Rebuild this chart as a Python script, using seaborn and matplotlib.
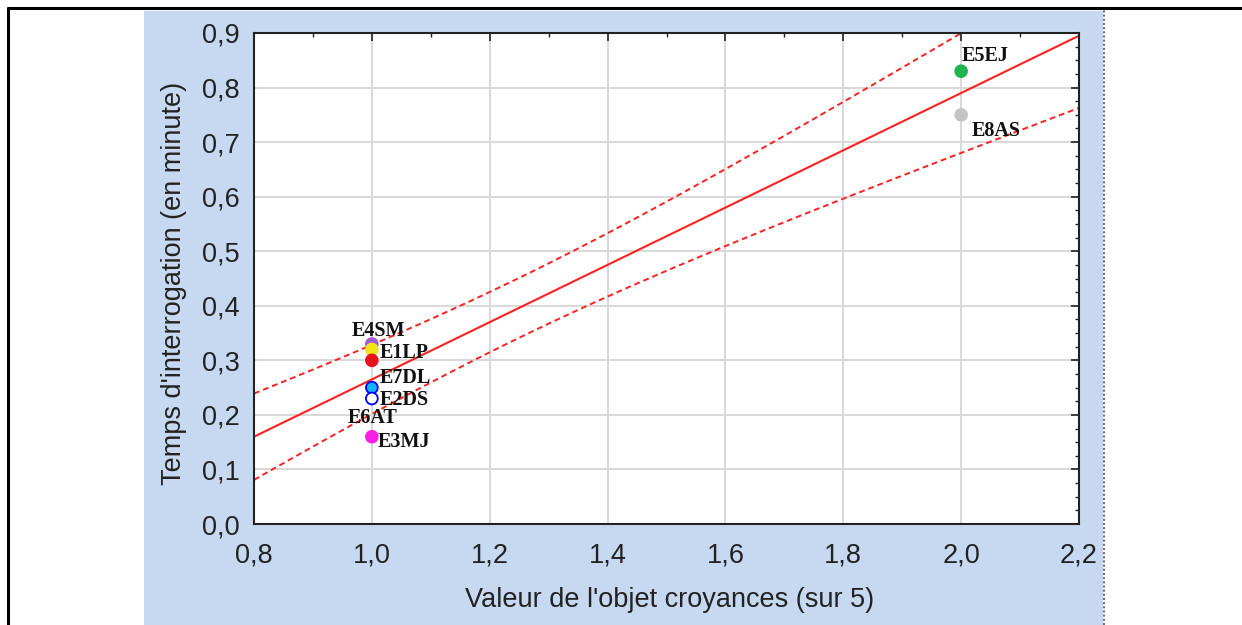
import matplotlib
matplotlib.use("Agg")
import matplotlib.pyplot as plt
import matplotlib.ticker as mticker
from matplotlib.lines import Line2D
from matplotlib.patches import Rectangle
import numpy as np
import pandas as pd
import seaborn as sns

# data
labels = ["E4SM", "E6AT", "E1LP", "E7DL", "E2DS", "E3MJ", "E5EJ", "E8AS"]
croyances = [1.0, 1.0, 1.0, 1.0, 1.0, 1.0, 2.0, 2.0]
temps = [0.33, 0.32, 0.30, 0.25, 0.23, 0.16, 0.83, 0.75]
fill_colors = ["#a05cd0", "#f2e21c", "#e8141c", "#14b4f0", "#ffffff",
               "#ff1ee6", "#1eb450", "#c4c4c4"]
edge_colors = ["#a05cd0", "#f2e21c", "#e8141c", "#0000ff", "#0000ff",
               "#ff1ee6", "#1eb450", "#c4c4c4"]
# label offsets in pixels (dx, dy) from each point
label_offsets = [(-20, 8), (-24, -74), (8, 2), (8, 5), (8, -6), (6, -10), (1, 10), (11, -21)]

df = pd.DataFrame({"label": labels, "x": croyances, "y": temps})

# linear fit and 95% confidence bands of the mean
slope, intercept = np.polyfit(df["x"], df["y"], 1)
n = len(df)
resid = df["y"] - (slope * df["x"] + intercept)
s = np.sqrt((resid ** 2).sum() / (n - 2))
sxx = ((df["x"] - df["x"].mean()) ** 2).sum()
t_crit = 2.447  # t(0.975, df=6)
xs = np.linspace(0.8, 2.2, 50)
fit = slope * xs + intercept
half = t_crit * s * np.sqrt(1 / n + (xs - df["x"].mean()) ** 2 / sxx)
fit_df = pd.DataFrame({"x": xs, "fit": fit, "lo": fit - half, "hi": fit + half})

sns.set_style("white")
plt.rcParams["font.family"] = ["Liberation Sans", "DejaVu Sans"]

W, H = 1242, 625
fig = plt.figure(figsize=(W / 100, H / 100), dpi=100)

# blue background panel and frame
fig.patches.append(Rectangle((144 / W, 0), (1103 - 144) / W, 1 - 11 / H,
                             transform=fig.transFigure, facecolor="#c6d9f0",
                             edgecolor="none", zorder=-10))
fig.lines.append(Line2D([1104 / W, 1104 / W], [0, 1 - 10 / H], transform=fig.transFigure,
                        color="#707070", lw=1.5, ls=(0, (1, 1)), zorder=-9))
fig.lines.append(Line2D([8 / W, 8 / W], [0, 1 - 8 / H], transform=fig.transFigure,
                        color="black", lw=2.2, zorder=-9))
fig.lines.append(Line2D([8 / W, 1], [1 - 8 / H, 1 - 8 / H], transform=fig.transFigure,
                        color="black", lw=2.2, zorder=-9))

ax = fig.add_axes([254 / W, 1 - 524 / H, (1079 - 254) / W, (524 - 33) / H])
ax.set_facecolor("white")

sns.lineplot(data=fit_df, x="x", y="fit", ax=ax, color="#ff2020", lw=1.5)
sns.lineplot(data=fit_df, x="x", y="hi", ax=ax, color="#ff2020", lw=1.4, ls=(0, (3, 2)))
sns.lineplot(data=fit_df, x="x", y="lo", ax=ax, color="#ff2020", lw=1.4, ls=(0, (3, 2)))

sns.scatterplot(data=df, x="x", y="y", hue="label", palette=dict(zip(labels, fill_colors)),
                s=72, linewidth=0, legend=False, ax=ax, zorder=5)
pts = ax.collections[-1]
pts.set_edgecolors(edge_colors)
pts.set_linewidths(1.3)

for lab, x, y, (dx, dy) in zip(labels, croyances, temps, label_offsets):
    ax.annotate(lab, (x, y), xytext=(dx * 0.72, dy * 0.72), textcoords="offset points",
                ha="left", va="baseline", fontsize=14.5, fontweight="bold",
                family=["Liberation Serif", "DejaVu Serif"], color="#111111", zorder=6)

ax.set_xlim(0.8, 2.2)
ax.set_ylim(0.0, 0.9)
ax.xaxis.set_major_locator(mticker.MultipleLocator(0.2))
ax.xaxis.set_minor_locator(mticker.MultipleLocator(0.1))
ax.yaxis.set_major_locator(mticker.MultipleLocator(0.1))
ax.yaxis.set_minor_locator(mticker.MultipleLocator(0.025))
fmt = mticker.FuncFormatter(lambda v, p: f"{v:.1f}".replace(".", ","))
ax.xaxis.set_major_formatter(fmt)
ax.yaxis.set_major_formatter(fmt)
ax.grid(True, which="major", color="#d8d8d8", lw=1.4)
ax.set_axisbelow(True)
ax.tick_params(which="both", direction="in", top=True, right=True, colors="#222222",
               labelsize=19.5)
ax.tick_params(which="major", length=6, width=1.2)
ax.tick_params(which="minor", length=3, width=1)
ax.tick_params(axis="y", pad=10.5)
ax.tick_params(axis="x", pad=13)
for sp in ax.spines.values():
    sp.set_color("#222222")
    sp.set_linewidth(1.5)

ax.set_xlabel("Valeur de l'objet croyances (sur 5)", fontsize=19.5, color="#222222")
ax.set_ylabel("Temps d'interrogation (en minute)", fontsize=19.5, color="#222222")
ax.xaxis.set_label_coords(0.504, -0.128)
ax.yaxis.set_label_coords(-0.081, 0.49)

fig.savefig("out.png", dpi=100)
